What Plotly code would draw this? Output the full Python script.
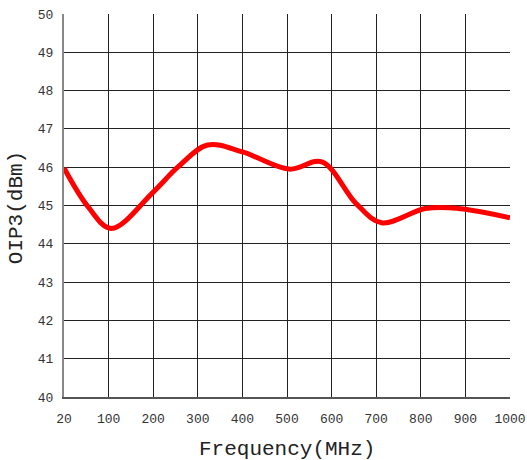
import plotly.graph_objects as go

freq_pos = [0, 55, 106, 200, 255, 322, 400, 505, 578, 655, 712, 810, 880, 1000]
oip3 = [45.98, 44.95, 44.40, 45.35, 46.0, 46.58, 46.40, 45.95, 46.14, 45.05, 44.55, 44.92, 44.93, 44.68]
x_tickvals = [0, 100, 200, 300, 400, 500, 600, 700, 800, 900, 1000]
x_ticktext = ["20", "100", "200", "300", "400", "500", "600", "700", "800", "900", "1000"]
y_tickvals = list(range(40, 51))

fig = go.Figure()
fig.add_trace(go.Scatter(x=freq_pos, y=oip3, mode="lines",
                         line=dict(color="#ff0000", width=5, shape="spline", smoothing=1.0),
                         showlegend=False))

font_mono = "Liberation Mono"
tick_font = dict(size=13, family=font_mono, color="#333")
title_font = dict(size=21, family=font_mono, color="#222")
fig.update_layout(
    width=527, height=460,
    margin=dict(l=64, r=17, t=14, b=63, autoexpand=False),
    paper_bgcolor="white", plot_bgcolor="white",
    font=dict(family=font_mono, color="#333"),
    xaxis=dict(range=[0, 1000], tickvals=x_tickvals, ticktext=x_ticktext,
               showgrid=True, gridcolor="#222", gridwidth=1,
               showline=True, linecolor="#555", linewidth=2, mirror=False,
               zeroline=False, ticks="", tickfont=tick_font, automargin=False,
               ticklabelstandoff=8),
    yaxis=dict(range=[40, 50], tickvals=y_tickvals,
               showgrid=True, gridcolor="#222", gridwidth=1,
               showline=True, linecolor="#888", linewidth=2, mirror=False,
               zeroline=False, ticks="", tickfont=tick_font, automargin=False,
               ticklabelstandoff=6),
    annotations=[
        dict(text="Frequency(MHz)", x=0.5, y=-0.1358, xref="paper", yref="paper",
             xanchor="center", yanchor="middle", showarrow=False, font=title_font),
        dict(text="OIP3(dBm)", x=-0.1076, y=0.493, xref="paper", yref="paper",
             xanchor="center", yanchor="middle", showarrow=False, textangle=-90, font=title_font),
    ],
)
fig.write_html("out.html")
